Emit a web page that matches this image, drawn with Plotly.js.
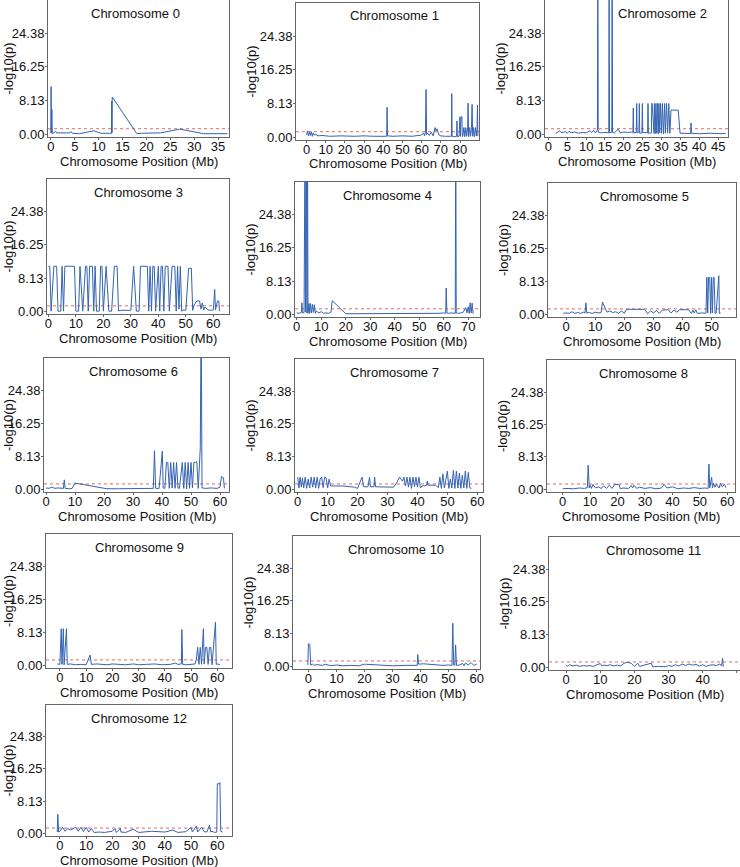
<!DOCTYPE html>
<html>
<head>
<meta charset="utf-8">
<script src="https://cdn.plot.ly/plotly-3.0.1.min.js"></script>
<style>html,body{margin:0;padding:0;overflow:hidden;background:#fff}#chart{width:740px;height:867px}</style>
</head>
<body>
<div id="chart"></div>
<script>
// ---------- DATA ----------
const chromosomes = ["Chromosome 0","Chromosome 1","Chromosome 2","Chromosome 3","Chromosome 4","Chromosome 5","Chromosome 6","Chromosome 7","Chromosome 8","Chromosome 9","Chromosome 10","Chromosome 11","Chromosome 12"];
const yTickVals = [0, 8.125, 16.25, 24.375];
const yTickText = ["0.00", "8.13", "16.25", "24.38"];
const threshold = 1.3;

const pos0 = [0, 0.05, 0.1, 0.2, 0.3, 0.5, 1.0, 1.2, 2.5, 4.0, 4.2, 4.5, 6.0, 9.0, 10.5, 12.7, 12.75, 12.8, 12.85, 12.9, 18.0, 19.0, 23.0, 27.0, 32.0, 35.0, 37.0];
const val0 = [0.2, 11.5, 0.3, 6.0, 0.1, 0.2, 0.7, 0.3, 0.3, 0.3, 0.6, 0.2, 0.1, 0.8, 0.2, 0.2, 8.0, 0.3, 8.9, 8.9, 0.1, 0.2, 0.3, 1.2, 0.1, 0.2, 0.1];

const pos1 = [0, 0.5, 1, 1.5, 2, 2.5, 3, 3.5, 4, 5, 6, 8, 12, 18, 25, 30, 35, 40, 41.8, 42, 42.2, 45, 50, 55, 58, 60, 61, 61.5, 62, 62.3, 62.6, 63, 64, 65, 66, 67, 67.5, 68, 69, 70, 72, 74, 75.5, 75.7, 75.9, 77, 78.2, 78.4, 78.6, 79.5, 80, 80.2, 80.5, 81, 81.2, 81.5, 82, 82.5, 83, 83.5, 84, 84.2, 84.5, 85, 85.5, 86, 86.3, 86.6, 87, 87.5, 88, 88.5, 88.9, 89.1, 89.3];
const val1 = [0.5, 1.5, 0.3, 1.2, 0.4, 1.3, 0.2, 1.0, 0.5, 0.6, 0.3, 0.4, 0.2, 0.3, 0.2, 0.3, 0.2, 0.3, 0.2, 7.2, 0.3, 0.2, 0.3, 0.2, 0.3, 0.5, 1.0, 0.3, 1.2, 11.5, 0.6, 1.0, 0.4, 1.2, 0.3, 2.3, 1.5, 2.0, 0.5, 0.3, 0.2, 0.1, 0.2, 10.5, 0.2, 0.1, 0.2, 3.9, 0.1, 0.2, 4.9, 0.2, 4.9, 4.9, 0.1, 0.3, 2.3, 0.1, 2.3, 0.2, 2.3, 8.2, 0.1, 2.3, 0.2, 2.3, 7.9, 0.2, 2.3, 0.1, 2.3, 0.3, 2.3, 7.7, 0.2];

const pos2 = [2, 3, 3.5, 4.5, 5, 5.5, 6, 7, 8, 9, 10, 11, 11.5, 12, 12.5, 13.0, 13.1, 13.2, 14, 15, 16.0, 16.1, 16.2, 16.8, 16.9, 17.0, 17.5, 18.5, 19, 20, 21, 22, 22.4, 22.5, 22.6, 23.3, 23.4, 23.5, 24, 24.1, 24.2, 24.8, 24.9, 25, 25.5, 26.3, 26.4, 26.5, 27.3, 27.4, 27.5, 28, 28.1, 28.3, 28.5, 28.7, 28.9, 29.1, 29.3, 29.5, 29.7, 30.0, 30.2, 30.5, 30.8, 31.0, 31.3, 31.6, 31.9, 32.2, 32.5, 34.4, 34.9, 36, 37.7, 37.8, 37.9, 40, 43, 46, 47];
const val2 = [0.2, 0.8, 0.3, 0.6, 0.2, 0.7, 0.3, 0.5, 0.2, 0.4, 0.3, 0.8, 0.4, 0.9, 0.3, 1.0, 45, 0.5, 0.3, 0.4, 0.3, 45, 0.3, 0.5, 45, 0.4, 0.3, 1.2, 0.3, 0.5, 0.4, 0.5, 0.4, 6.3, 0.3, 0.4, 7.4, 0.3, 0.5, 7.4, 0.2, 0.3, 7.4, 0.3, 0.4, 0.3, 7.4, 0.2, 0.3, 7.4, 7.4, 0.2, 7.4, 0.1, 7.4, 0.2, 7.4, 0.1, 7.4, 0.3, 7.4, 0.2, 7.4, 0.1, 7.4, 0.2, 7.4, 0.3, 7.4, 0.2, 5.8, 5.8, 0.2, 0.2, 0.1, 2.7, 0.2, 0.1, 0.2, 0.1, 0.2];

const pos3 = [0, 0.5, 1, 2, 3, 3.5, 4.5, 5, 5.5, 6, 9.5, 10, 11, 11.5, 12.5, 13.5, 14, 14.5, 15, 16, 16.5, 17, 17.5, 18.5, 19, 19.5, 20, 21, 22, 23, 24, 25, 25.5, 26, 30, 31, 32, 33, 33.5, 36, 36.5, 37, 37.5, 38, 38.5, 39, 40, 40.5, 41, 41.5, 42, 42.5, 43.5, 44, 45, 46, 46.5, 47, 47.5, 48, 48.5, 49, 50, 51, 52, 52.5, 53, 54, 55, 55.5, 56, 56.5, 57, 58, 59, 60, 60.5, 60.8, 61.5, 62, 62.2];
const val3 = [11, 11, 0, 11, 11, 0, 0, 11, 0, 11, 11, 0, 0, 11, 0, 11, 11, 0, 11, 11, 0, 11, 0, 0, 11, 11, 0, 11, 0, 0, 11, 11, 0, 0.2, 0.2, 11, 0, 0, 11, 11, 0, 11, 0, 11, 11, 0, 11, 0, 11, 11, 0, 11, 11, 0, 11, 11, 0, 11, 0.5, 11, 0, 0.3, 0.2, 10.5, 10.5, 0.2, 1.5, 2.5, 2.5, 0.5, 2, 0.3, 1, 0.3, 0.2, 0.3, 5.3, 0.3, 2.5, 2.5, 0];

const pos4 = [0, 1, 2, 2.1, 2.3, 3, 3.4, 3.6, 3.9, 4.2, 4.4, 4.6, 5, 5.3, 5.6, 6, 6.4, 6.8, 7.2, 7.6, 8, 9, 10, 11, 12, 13, 14, 14.5, 20, 25, 30, 40, 50, 55, 58, 60, 60.8, 61, 61.3, 62, 63, 64.7, 64.9, 65.1, 66, 67, 68, 69, 69.5, 70, 70.4, 70.8, 71.2, 71.6, 72];
const val4 = [0.3, 0.2, 0.5, 2.8, 0.3, 0.4, 45, 0.5, 45, 0.3, 45, 0.2, 2.6, 0.2, 2.6, 0.3, 2.4, 0.4, 2.3, 0.2, 0.8, 0.3, 0.6, 0.2, 0.3, 0.2, 0.5, 3.3, 0.1, 0.1, 0.05, 0.1, 0.05, 0.1, 0.2, 0.3, 0.2, 6.4, 0.3, 0.2, 0.3, 0.2, 45, 0.3, 0.2, 0.3, 0.5, 1.6, 0.3, 1.8, 0.2, 2.8, 0.3, 2.7, 0.1];

const pos5 = [-1, 0, 1, 2, 3, 4, 5, 6, 6.5, 6.8, 7.1, 8, 9, 10, 11, 12, 12.5, 14, 15, 16, 17, 18, 19, 20, 20.5, 21, 24, 27, 28, 29, 30, 31, 32, 33, 35, 36, 37, 38, 39, 42, 43, 43.5, 44, 44.5, 45, 46, 47, 48, 48.3, 48.6, 48.9, 49.3, 49.6, 49.9, 50.2, 50.5, 50.8, 51.1, 51.5, 52.4, 52.6, 53];
const val5 = [0.2, 0.3, 0.2, 0.6, 0.2, 0.4, 0.2, 0.5, 0.3, 2.8, 0.3, 0.4, 0.2, 0.5, 0.3, 0.4, 3.0, 0.5, 0.8, 0.4, 0.6, 0.2, 0.8, 0.2, 1.0, 1.2, 1.2, 1.2, 0.1, 0.8, 0.3, 0.9, 0.2, 1.0, 1.1, 0.3, 1.0, 0.5, 1.1, 1.1, 0.2, 1.0, 0.3, 1.1, 0.2, 0.3, 0.3, 0.2, 9.1, 0.3, 9.1, 9.1, 0.2, 9.1, 0.3, 9.1, 9.1, 0.2, 0.3, 9.5, 0.2, 0.3];

const pos6 = [0, 1, 2, 3, 4, 5, 6, 6.3, 6.6, 8, 9, 10, 15, 21, 25, 30, 33, 35, 37, 37.4, 37.8, 39, 40.1, 40.4, 41, 41.5, 42, 42.5, 43, 43.5, 44, 44.5, 45, 45.5, 46, 47, 47.5, 48, 48.5, 49, 49.5, 50, 50.5, 51, 51.5, 52, 52.5, 53.2, 53.5, 53.8, 55, 57, 59, 60, 60.5, 61.2, 61.5];
const val6 = [0.3, 0.2, 0.5, 0.2, 0.3, 0.2, 0.2, 2.3, 0.2, 0.1, 0.2, 1.5, 0.9, 0.1, 0.1, 0.1, 0.2, 0.1, 0.2, 9.5, 0.2, 0.2, 9.4, 0.3, 0.2, 6.6, 6.6, 0.2, 6.6, 0.3, 6.6, 0.2, 6.6, 0.3, 0.2, 6.6, 0.2, 6.6, 0.1, 6.6, 0.2, 6.6, 0.3, 6.6, 6.6, 6.8, 0.2, 10.2, 45, 0.3, 0.2, 0.3, 0.2, 0.5, 3.1, 2.8, 0.2];

const pos7 = [0, 0.4, 0.8, 1.2, 1.6, 2, 2.5, 3, 3.5, 4, 4.5, 5, 5.5, 6, 6.5, 7, 7.5, 8, 8.5, 9, 9.5, 10, 10.5, 11, 15, 19, 20, 21.5, 22, 23.5, 24, 24.3, 25.5, 25.7, 26, 27, 30, 32, 33, 34, 35, 35.5, 36, 36.5, 37, 37.5, 38, 38.5, 39, 39.5, 40, 40.5, 41, 41.5, 43, 43.3, 43.5, 46, 47, 47.5, 48, 48.5, 49, 50, 50.5, 51, 51.5, 52, 52.5, 53, 53.5, 54, 54.5, 55, 55.5, 56, 56.5, 57, 57.5, 58];
const val7 = [3.0, 0.3, 3.0, 0.5, 2.8, 0.3, 3.0, 0.2, 2.5, 0.3, 3.0, 0.5, 3.0, 0.3, 3.0, 0.2, 2.5, 3.0, 0.4, 3.0, 2.8, 0.3, 2.5, 0.8, 0.8, 0.5, 0.2, 3.0, 0.6, 0.6, 3.0, 0.6, 0.6, 3.0, 0.6, 0.6, 0.5, 0.5, 1.5, 3.0, 2.0, 3.0, 0.8, 3.0, 0.5, 3.0, 0.2, 3.0, 0.6, 3.0, 0.5, 3.0, 0.3, 0.8, 0.9, 2.0, 1.0, 1.0, 0.4, 3.0, 0.2, 3.8, 0.3, 4.5, 0.2, 2.5, 0.3, 4.7, 0.2, 4.5, 0.3, 4.0, 0.2, 3.5, 0.3, 4.5, 0.2, 4.2, 0.3, 0.2];

const pos8 = [0, 2, 4, 6, 8, 9, 9.3, 9.7, 10, 10.5, 11, 12, 13, 14, 15, 16, 17, 18, 19, 20.5, 21, 22, 24, 25, 25.5, 26, 27, 28, 30, 32, 34, 36, 37, 38, 40, 42, 44, 46, 48, 50, 52, 53, 53.3, 53.6, 54.3, 54.6, 55, 55.5, 56, 57, 57.5, 58, 59, 59.5];
const val8 = [0.1, 0.2, 0.1, 0.3, 0.2, 0.4, 6.0, 0.3, 1.0, 0.2, 1.2, 0.3, 0.6, 0.2, 0.8, 0.2, 1.0, 0.2, 1.2, 1.2, 0.1, 0.3, 0.2, 0.9, 0.3, 1.0, 0.2, 0.5, 0.2, 0.4, 0.1, 0.3, 1.2, 0.3, 0.6, 0.1, 0.3, 0.2, 0.4, 0.2, 0.3, 0.2, 6.3, 0.3, 3.0, 0.4, 1.5, 0.5, 1.2, 0.3, 1.5, 0.6, 1.2, 0.4];

const pos9 = [-1, 0, 0.5, 0.8, 1.3, 1.6, 2.5, 2.8, 4, 6, 8, 10, 11.5, 12, 14, 16, 18, 20, 22, 25, 28, 30, 33, 36, 39, 42, 44, 45, 46.3, 46.5, 46.8, 48, 50, 51.5, 52, 52.5, 53, 53.5, 54, 54.7, 55, 55.5, 56, 56.5, 57, 57.5, 58, 59.3, 59.6, 60, 61];
const val9 = [0.3, 0.2, 9.0, 0.2, 9.0, 0.1, 9.0, 0.2, 0.3, 0.1, 0.2, 0.1, 2.5, 0.2, 0.3, 0.2, 0.1, 0.3, 0.2, 0.1, 0.3, 0.1, 0.2, 0.3, 0.1, 0.2, 0.5, 0.2, 0.3, 8.8, 0.2, 0.1, 0.2, 0.3, 1.5, 4.4, 0.2, 4.4, 0.2, 9.0, 0.3, 4.4, 4.4, 0.2, 4.4, 4.4, 0.1, 10.6, 0.2, 0.3, 0.1];

const pos10 = [-0.2, 0, 0.5, 0.8, 1.5, 2, 3, 5, 6, 8, 10, 12, 15, 18, 20, 22, 25, 30, 35, 38, 38.8, 39, 39.3, 41, 45, 48, 50, 51.2, 51.5, 51.8, 52.2, 52.5, 52.8, 54, 55, 55.5, 56, 57, 58, 59, 60];
const val10 = [0.3, 5.6, 5.4, 0.3, 0.5, 0.2, 0.4, 0.2, 0.5, 0.1, 0.3, 0.1, 0.2, 0.1, 0.5, 0.4, 0.2, 0.1, 0.2, 0.3, 0.2, 2.9, 0.5, 0.6, 0.3, 0.2, 0.3, 0.2, 10.7, 0.3, 0.2, 5.3, 0.2, 0.3, 0.7, 0.1, 0.8, 0.3, 0.9, 0.2, 0.5];

const pos11 = [0, 0.5, 1, 2, 3, 4, 5, 6, 7, 8, 9, 10, 10.5, 11, 12, 13, 14, 15, 16, 17, 18, 19, 20, 21, 21.5, 23, 25, 25.3, 27, 29, 30, 31, 32, 33, 34, 35, 36, 37, 38, 39, 40, 41, 42, 43, 44, 45, 45.5, 45.8, 46];
const val11 = [0.5, 0.2, 0.6, 0.3, 0.5, 0.2, 0.4, 0.3, 0.4, 0.2, 0.6, 0.9, 0.3, 0.5, 0.4, 0.6, 0.3, 0.5, 0.3, 1.0, 1.2, 1.0, 0.2, 1.0, 0.2, 0.5, 1.0, 0.1, 0.2, 0.1, 0.4, 0.2, 0.6, 0.3, 0.8, 0.4, 0.8, 0.5, 0.7, 0.3, 0.6, 0.2, 0.5, 0.6, 0.4, 0.8, 0.3, 2.2, 0.1];

const pos12 = [-1, -0.8, -0.5, 0, 1, 2, 3, 4, 6, 7, 8, 9, 10, 11, 12, 13, 15, 17, 20, 21, 21.5, 23, 23.3, 25, 28, 30, 35, 40, 43, 45, 48, 50, 50.5, 52, 52.5, 54, 55, 56, 57, 57.5, 58, 59, 59.8, 60, 60.8, 61, 61.3, 62];
const val12 = [0.3, 4.8, 0.3, 0.5, 1.5, 0.5, 1.2, 0.8, 1.5, 0.5, 1.5, 0.4, 1.5, 0.3, 1.2, 0.2, 0.3, 0.2, 0.5, 1.2, 0.2, 1.2, 0.3, 0.2, 1.0, 0.2, 0.5, 0.3, 0.8, 0.2, 0.4, 1.5, 0.3, 1.8, 0.3, 1.5, 0.4, 0.3, 2.0, 0.3, 0.5, 0.2, 0.3, 12.5, 12.5, 12.8, 0.5, 0.3];

const positions = [pos0, pos1, pos2, pos3, pos4, pos5, pos6, pos7, pos8, pos9, pos10, pos11, pos12];
const values = [val0, val1, val2, val3, val4, val5, val6, val7, val8, val9, val10, val11, val12];

// ---------- LAYOUT (pixel boxes: left, right, top, bottom, x-range, dtick, title x) ----------
const W = 740, H = 867;
const panels = [
  {l: 48,  r: 229, t: 0,   b: 137, xr: [-0.6, 37.3], dt: 5,  tx: 135},
  {l: 296, r: 479, t: 3,   b: 140, xr: [-5.5, 89.9], dt: 10, tx: 394},
  {l: 545, r: 728, t: 0,   b: 137, xr: [-0.9, 47.6], dt: 5,  tx: 662},
  {l: 47,  r: 229, t: 179, b: 314, xr: [-0.5, 65.7], dt: 10, tx: 138},
  {l: 295, r: 480, t: 182, b: 317, xr: [-0.7, 74.8], dt: 10, tx: 387},
  {l: 548, r: 736, t: 183, b: 317, xr: [-6.2, 58.3], dt: 10, tx: 644},
  {l: 44,  r: 229, t: 358, b: 492, xr: [-0.7, 63.1], dt: 10, tx: 133},
  {l: 295, r: 483, t: 359, b: 492, xr: [-0.9, 61.9], dt: 10, tx: 394},
  {l: 547, r: 735, t: 360, b: 492, xr: [-5.7, 62.8], dt: 10, tx: 643},
  {l: 46,  r: 232, t: 534, b: 668, xr: [-5.3, 65.6], dt: 10, tx: 139},
  {l: 293, r: 480, t: 536, b: 669, xr: [-5.5, 61.2], dt: 10, tx: 396},
  {l: 549, r: 740, t: 537, b: 670, xr: [-5.0, 50.9], dt: 10, tx: 653},
  {l: 46,  r: 232, t: 705, b: 836, xr: [-5.3, 65.6], dt: 10, tx: 139}
];
const yRange = [-0.7, 32.4];
const FONT = "Liberation Sans, Arial, Helvetica, sans-serif";
const LINE_COLOR = "#3363b3";
const FRAME = "#666666";

const traces = [];
const layout = {
  width: W, height: H,
  margin: {l: 0, r: 0, t: 0, b: 0, pad: 0},
  paper_bgcolor: "#ffffff", plot_bgcolor: "#ffffff",
  showlegend: false,
  font: {family: FONT, size: 13, color: "#111111"},
  annotations: [], shapes: []
};

panels.forEach((p, i) => {
  const n = i === 0 ? "" : String(i + 1);
  traces.push({
    type: "scatter", mode: "lines",
    x: positions[i], y: values[i],
    xaxis: "x" + n, yaxis: "y" + n,
    line: {color: LINE_COLOR, width: 1},
    hoverinfo: "x+y", name: chromosomes[i]
  });
  layout["xaxis" + n] = {
    domain: [p.l / W, p.r / W], anchor: "y" + n,
    range: p.xr, tick0: 0, dtick: p.dt,
    showline: true, mirror: true, linecolor: FRAME, linewidth: 1,
    ticks: "outside", ticklen: 2, tickcolor: FRAME,
    ticklabelposition: "outside", ticklabelstandoff: -5,
    showgrid: false, zeroline: false,
    tickfont: {family: FONT, size: 13, color: "#111111"}
  };
  layout["yaxis" + n] = {
    domain: [1 - p.b / H, 1 - p.t / H], anchor: "x" + n,
    range: yRange, tickvals: yTickVals, ticktext: yTickText,
    showline: true, mirror: true, linecolor: FRAME, linewidth: 1,
    ticks: "outside", ticklen: 2, tickcolor: FRAME,
    ticklabelposition: "outside", ticklabelstandoff: -2,
    showgrid: false, zeroline: false,
    tickfont: {family: FONT, size: 13, color: "#111111"}
  };
  layout.shapes.push({
    type: "line", xref: "x" + n + " domain", x0: 0, x1: 1,
    yref: "y" + n, y0: threshold, y1: threshold,
    line: {color: "#e06a6a", width: 1, dash: "dot"}, layer: "below"
  });
  layout.annotations.push({
    text: chromosomes[i], xref: "paper", yref: "paper",
    x: p.tx / W, y: 1 - (p.t + 13) / H, xanchor: "center", yanchor: "middle",
    showarrow: false, font: {family: FONT, size: 13, color: "#111111"}
  });
  layout.annotations.push({
    text: "Chromosome Position (Mb)", xref: "paper", yref: "paper",
    x: (p.l + p.r) / 2 / W, y: 1 - (p.b + 24) / H, xanchor: "center", yanchor: "middle",
    showarrow: false, font: {family: FONT, size: 13, color: "#111111"}
  });
  layout.annotations.push({
    text: "-log10(p)", xref: "paper", yref: "paper", textangle: -90,
    x: Math.max(8, p.l - 45) / W, y: 1 - (p.t + p.b) / 2 / H, xanchor: "center", yanchor: "middle",
    showarrow: false, font: {family: FONT, size: 13, color: "#111111"}
  });
});

Plotly.newPlot("chart", traces, layout, {staticPlot: true, displayModeBar: false});
</script>
</body>
</html>
